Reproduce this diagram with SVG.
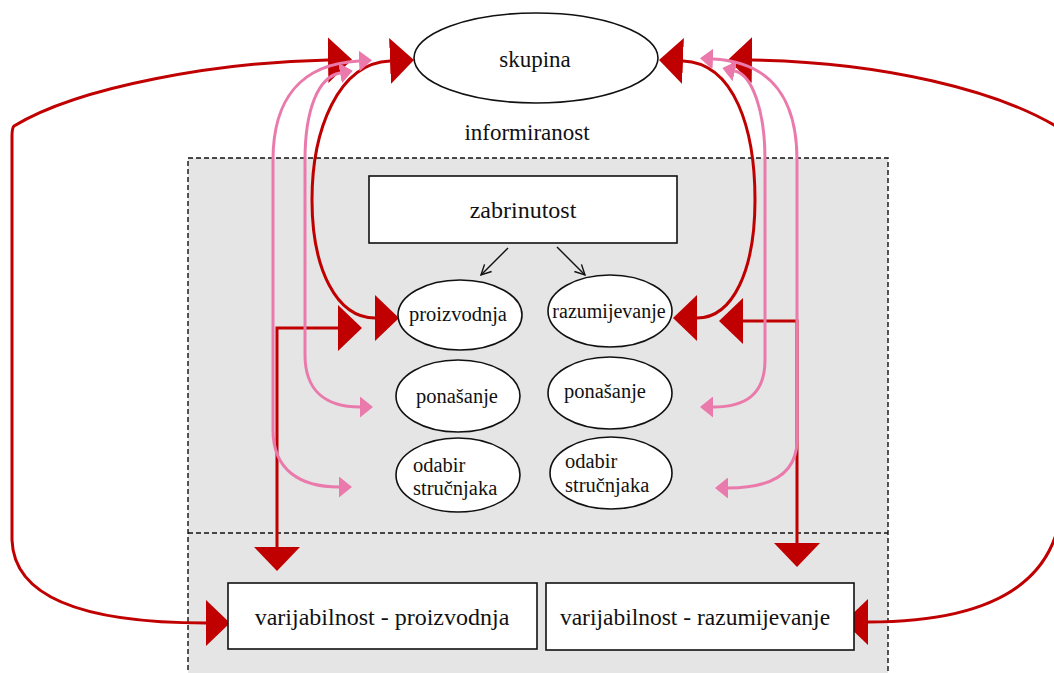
<svg xmlns="http://www.w3.org/2000/svg" width="1054" height="673" viewBox="0 0 1054 673">
<style>
.node{fill:#fff;stroke:#111;stroke-width:1.6}
.red{fill:none;stroke:#c00000;stroke-width:3}
.pink{fill:none;stroke:#ea7aab;stroke-width:3}
.thin{fill:none;stroke:#111;stroke-width:1.4}
.dash{stroke:#111;stroke-width:1.4;stroke-dasharray:5 3}
</style>
<defs>
<marker id="big" markerUnits="userSpaceOnUse" markerWidth="24" markerHeight="46" viewBox="0 0 24 46" refX="0" refY="23" orient="auto-start-reverse"><path d="M0,0 L24,23 L0,46 Z" fill="#c00000"/></marker>
<marker id="pk" markerUnits="userSpaceOnUse" markerWidth="13" markerHeight="21" viewBox="0 0 13 21" refX="0" refY="10.5" orient="auto-start-reverse"><path d="M0,0 L13,10.5 L0,21 Z" fill="#ea7aab"/></marker>
<marker id="sm" markerUnits="userSpaceOnUse" markerWidth="12" markerHeight="12" viewBox="0 0 12 12" refX="11" refY="6" orient="auto"><path d="M1,1 L11,6 L1,11" fill="none" stroke="#111" stroke-width="1.4"/></marker>
</defs>
<rect width="1054" height="673" fill="#fff"/>
<g id="frame">
<rect x="188" y="158" width="700" height="540" fill="#e5e5e5" class="dash"/>
<line x1="188" y1="533" x2="888" y2="533" class="dash"/>
</g>
<g id="connectors">
<path class="red" d="M328,60 C220,62 80,86 14,126 Q12,128 12,136 L12,540 C14,600 90,623 206,623" marker-start="url(#big)" marker-end="url(#big)"/>
<path class="red" d="M752,60 C880,62 1000,90 1062,130 L1062,500 C1058,590 980,622 868,622" marker-start="url(#big)" marker-end="url(#big)"/>
<path class="red" d="M390,61 C338,63 312,130 312,200 C312,270 337,318 375,318" marker-start="url(#big)" marker-end="url(#big)"/>
<path class="red" d="M683,61 C735,63 755,130 755,200 C755,270 733,318 697,318" marker-start="url(#big)" marker-end="url(#big)"/>
<path class="red" d="M338,328 L277,328 L277,547" marker-start="url(#big)" marker-end="url(#big)"/>
<path class="red" d="M743,321 L797,321 L797,543" marker-start="url(#big)" marker-end="url(#big)"/>
<path class="pink" d="M359,61 C300,64 273,100 273,160 L273,430 C273,470 300,487 339,487" marker-start="url(#pk)" marker-end="url(#pk)"/>
<path class="pink" d="M340,73 C318,77 305,110 305,160 L305,355 C305,390 325,407 360,407" marker-start="url(#pk)" marker-end="url(#pk)"/>
<path class="pink" d="M713,59 C772,62 797,100 797,160 L797,440 C797,475 770,488 728,488" marker-start="url(#pk)" marker-end="url(#pk)"/>
<path class="pink" d="M735,71 C752,75 765,110 765,160 L765,360 C765,395 745,407 713,407" marker-start="url(#pk)" marker-end="url(#pk)"/>
<path class="thin" d="M508,248 L481,275" marker-end="url(#sm)"/>
<path class="thin" d="M557,247 L585,275" marker-end="url(#sm)"/>
</g>
<g font-family="Liberation Serif, Times New Roman, serif" fill="#111">
<g id="skupina"><ellipse class="node" cx="536" cy="58" rx="122" ry="45"/><text x="535" y="67" font-size="23" text-anchor="middle">skupina</text></g>
<g id="informiranost"><text x="527" y="140" font-size="23" text-anchor="middle">informiranost</text></g>
<g id="zabrinutost"><rect class="node" x="369" y="176" width="308" height="67"/><text x="523" y="218" font-size="24" text-anchor="middle">zabrinutost</text></g>
<g id="proizvodnja"><ellipse class="node" cx="460" cy="315" rx="62" ry="35"/><text x="458" y="321" font-size="20.5" text-anchor="middle">proizvodnja</text></g>
<g id="ponasanje-l"><ellipse class="node" cx="458" cy="396" rx="62" ry="36"/><text x="457" y="403" font-size="20.5" text-anchor="middle">ponašanje</text></g>
<g id="odabir-l"><ellipse class="node" cx="458" cy="475" rx="62" ry="37"/><text x="413" y="472" font-size="20.5">odabir</text><text x="413" y="495" font-size="20.5">stručnjaka</text></g>
<g id="razumijevanje"><ellipse class="node" cx="610" cy="311" rx="62" ry="36"/><text x="609" y="318" font-size="20" text-anchor="middle">razumijevanje</text></g>
<g id="ponasanje-r"><ellipse class="node" cx="610" cy="393" rx="62" ry="36"/><text x="605" y="398" font-size="20.5" text-anchor="middle">ponašanje</text></g>
<g id="odabir-r"><ellipse class="node" cx="611" cy="473" rx="61" ry="36"/><text x="565" y="468" font-size="20.5">odabir</text><text x="565" y="492" font-size="20.5">stručnjaka</text></g>
<g id="var-proizvodnja"><rect class="node" x="228" y="583" width="309" height="66"/><text x="382" y="625" font-size="24" text-anchor="middle">varijabilnost - proizvodnja</text></g>
<g id="var-razumijevanje"><rect class="node" x="546" y="583" width="308" height="67"/><text x="695" y="625" font-size="23.5" text-anchor="middle">varijabilnost - razumijevanje</text></g>
</g>
</svg>
